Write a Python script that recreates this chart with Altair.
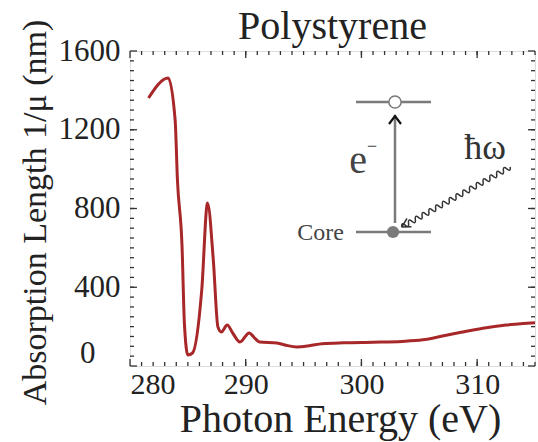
import altair as alt
import pandas as pd

# ---- data ----
energy = [281.6, 283.3, 283.9, 284.1, 284.5, 284.7, 285.0, 285.4, 286.2, 286.7,
          287.2, 287.6, 287.9, 288.4, 288.9, 289.5, 290.3, 290.8, 291.2, 292.7,
          293.5, 294.4, 295.5, 296.6, 298.5, 301.0, 303.5, 305.3, 307.0, 308.5,
          310.5, 312.5, 314.0, 315.0]
absorption = [1361, 1463, 1250, 945, 604, 218, 56, 66, 386, 828,
              538, 198, 173, 208, 165, 122, 168, 140, 122, 117,
              105, 97, 103, 113, 118, 121, 125, 133, 152, 170,
              192, 208, 216, 220]

x_major = [280, 290, 300, 310]
x_minor = list(range(281, 316))
y_major = [0, 400, 800, 1200, 1600]
y_minor = list(range(50, 1600, 50))

W, H = 405, 315
SERIF = "Liberation Serif"
TXT = "#222222"
GRAY = "#7a7a7a"
X_TITLE = "Photon Energy (eV)"
Y_TITLE = "Absorption Length 1/\u03bc (nm)"

df = pd.DataFrame({"E": energy, "A": absorption})

xs = alt.Scale(domain=[280, 315], nice=False, zero=False)
ys = alt.Scale(domain=[0, 1600], nice=False)

x_axis = alt.Axis(values=x_major, ticks=False, domain=False, grid=False, format="d",
                  labelFont=SERIF, labelFontSize=30, labelColor=TXT, labelPadding=3,
                  titleFont=SERIF, titleFontSize=40, titleFontWeight="normal", titleColor=TXT,
                  titleX=210, titleY=65, titleBaseline="alphabetic", titleAlign="center")
y_axis = alt.Axis(values=y_major, ticks=False, domain=False, grid=False, format="d",
                  labelFont=SERIF, labelFontSize=31, labelColor=TXT,
                  labelPadding={"condition": {"test": "datum.value == 0", "value": 35}, "value": 10},
                  labelOffset={"condition": {"test": "datum.value == 0", "value": -13}, "value": 0},
                  titleFont=SERIF, titleFontSize=34, titleFontWeight="normal", titleColor=TXT,
                  titleX=-95, titleY=161, titleAngle=270, titleBaseline="middle", titleAlign="center")

def X(field):
    return alt.X(field, scale=xs, title=X_TITLE, axis=x_axis)

def Y(field):
    return alt.Y(field, scale=ys, title=Y_TITLE, axis=y_axis)

line = alt.Chart(df).mark_line(color="#a8282a", strokeWidth=3, interpolate="monotone", clip=True).encode(
    x=X("E:Q"), y=Y("A:Q"))

one = pd.DataFrame({"k": [0]})

def xticks(vals, ln):
    d = pd.DataFrame({"E": vals})
    b = alt.Chart(d).mark_rule(color="#333", strokeWidth=1.3).encode(
        x=X("E:Q"), y=alt.value(H), y2=alt.value(H - ln))
    t = alt.Chart(d).mark_rule(color="#333", strokeWidth=1.3).encode(
        x=X("E:Q"), y=alt.value(0), y2=alt.value(ln))
    return b + t

def yticks(vals, ln):
    d = pd.DataFrame({"A": vals})
    l = alt.Chart(d).mark_rule(color="#333", strokeWidth=1.3).encode(
        y=Y("A:Q"), x=alt.value(0), x2=alt.value(ln))
    r = alt.Chart(d).mark_rule(color="#333", strokeWidth=1.3).encode(
        y=Y("A:Q"), x=alt.value(W), x2=alt.value(W - ln))
    return l + r

ticks = xticks(x_major, 7) + xticks(x_minor, 4) + yticks(y_major, 7) + yticks(y_minor, 4)

base = alt.Chart(one)
# inset diagram (annotation, pixel space)
top_level = base.mark_rule(color=GRAY, strokeWidth=2.5).encode(x=alt.value(226), x2=alt.value(301), y=alt.value(51))
core_level = base.mark_rule(color=GRAY, strokeWidth=2.5).encode(x=alt.value(226), x2=alt.value(301), y=alt.value(181))
arrow = base.mark_rule(color=GRAY, strokeWidth=2.5).encode(x=alt.value(265), y=alt.value(172), y2=alt.value(64))
chev = base.mark_point(shape="M-0.6,0.5 L0,-0.3 L0.6,0.5", filled=False, stroke="#111", strokeWidth=2.2,
                       size=400, opacity=1).encode(x=alt.value(265), y=alt.value(68))
open_c = base.mark_point(shape="circle", filled=True, fill="white", stroke=GRAY, strokeWidth=1.5, size=150,
                         opacity=1).encode(x=alt.value(265), y=alt.value(51))
full_c = base.mark_point(shape="circle", filled=True, color=GRAY, size=150, opacity=1).encode(
    x=alt.value(263), y=alt.value(181))
core_t = base.mark_text(text="Core", font=SERIF, fontSize=24, color="#444", align="right", baseline="middle").encode(
    x=alt.value(214), y=alt.value(182))
e_t = base.mark_text(text="e", font=SERIF, fontSize=40, color="#444", align="center", baseline="middle").encode(
    x=alt.value(228), y=alt.value(110))
minus_t = base.mark_text(text="\u2212", font=SERIF, fontSize=18, color="#444", align="center", baseline="middle").encode(
    x=alt.value(242), y=alt.value(96))
hw_t = base.mark_text(text="\u0127\u03c9", font=SERIF, fontSize=36, color="#333", align="center", baseline="middle").encode(
    x=alt.value(355), y=alt.value(97))

# wavy photon line drawn as a custom symbol path
parts = ["M-1,0"]
for i in range(32):
    x0 = -1 + i * 0.0625
    amp = -0.08 if i % 2 == 0 else 0.08
    parts.append(f"Q{x0 + 0.03125:.5f},{amp} {x0 + 0.0625:.5f},0")
parts.append("M-1,0 L-0.86,-0.08 M-1,0 L-0.86,0.07")
wave_path = " ".join(parts)
wave = base.mark_point(shape=wave_path, filled=False, stroke="#333", strokeWidth=1.5, size=15376, angle=331,
                       opacity=1).encode(x=alt.value(326), y=alt.value(146))

chart = alt.layer(
    line, ticks, top_level, core_level, arrow, chev, open_c, full_c, core_t, e_t, minus_t, hw_t, wave
).properties(
    width=W, height=H,
    title=alt.TitleParams("Polystyrene", font=SERIF, fontSize=40, fontWeight="normal", color=TXT,
                          anchor="middle", baseline="alphabetic", offset=0, dy=60),
    autosize=alt.AutoSizeParams(type="none"),
    padding={"left": 130, "top": 51, "right": 3, "bottom": 76},
).configure_view(stroke="#222", strokeWidth=2).configure_axis(
    labelFont=SERIF, titleFont=SERIF
).configure(background="white")

chart.save("out.html", embed_options={"renderer": "svg", "actions": False})
